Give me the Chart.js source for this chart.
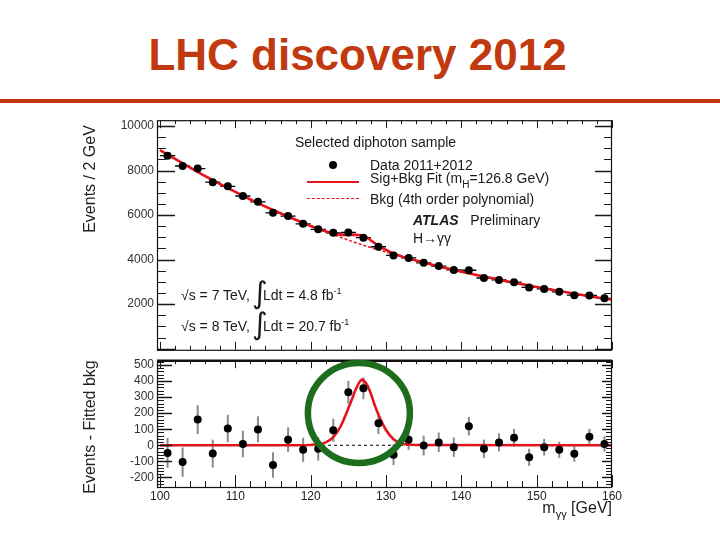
<!DOCTYPE html>
<html>
<head>
<meta charset="utf-8">
<script src="https://cdn.jsdelivr.net/npm/chart.js@4.4.1/dist/chart.umd.min.js"></script>
<style>
  html, body { margin:0; padding:0; background:#fff; }
  body { width:720px; height:540px; position:relative; overflow:hidden; font-family:"Liberation Sans", Arial, sans-serif; }
  #title { position:absolute; left:0; width:715px; top:30px; text-align:center; font-weight:bold; font-size:44px; line-height:50px; color:#C0390F; }
  #rule { position:absolute; left:0; top:99px; width:720px; height:4px; background:#C0390F; }
  canvas { position:absolute; left:0; }
  #cTop { top:110px; }
  #cBot { top:350px; }
  .t { position:absolute; white-space:nowrap; font-size:14px; line-height:14px; color:#1a1a1a; }
  .rot { position:absolute; white-space:nowrap; font-size:16px; line-height:16px; color:#222; transform:translate(-50%,-50%) rotate(-90deg); }
  .sub { font-size:10px; position:relative; top:5px; }
  .sup { font-size:9px; position:relative; top:-6px; }
  .int { position:absolute; font-family:"DejaVu Sans", sans-serif; font-size:30px; line-height:30px; color:#1a1a1a; }
</style>
</head>
<body>
<div id="title">LHC discovery 2012</div>
<div id="rule"></div>
<canvas id="cTop" width="720" height="250"></canvas>
<canvas id="cBot" width="720" height="190"></canvas>

<div class="rot" style="left:90px; top:179px;">Events / 2 GeV</div>
<div class="rot" style="left:90px; top:427px;">Events - Fitted bkg</div>
<div class="t" style="right:108px; top:500px; font-size:16px; line-height:16px;">m<span style="font-size:11px; position:relative; top:5px;">γγ</span> [GeV]</div>

<div class="t" style="left:295px; top:135px;">Selected diphoton sample</div>
<div style="position:absolute; left:329px; top:161px; width:8px; height:8px; border-radius:50%; background:#000;"></div>
<div class="t" style="left:370px; top:158px;">Data 2011+2012</div>
<div style="position:absolute; left:307px; top:181px; width:52px; height:2px; background:#e3141c;"></div>
<div class="t" style="left:370px; top:171px;">Sig+Bkg Fit (m<span class="sub">H</span>=126.8 GeV)</div>
<div style="position:absolute; left:307px; top:198px; width:52px; height:0; border-top:1.5px dashed #e3141c;"></div>
<div class="t" style="left:370px; top:192px;">Bkg (4th order polynomial)</div>
<div class="t" style="left:413px; top:213px;"><b><i>ATLAS</i></b>&nbsp;&nbsp; Preliminary</div>
<div class="t" style="left:413px; top:231px;">H→γγ</div>

<div class="t" style="left:181px; top:288px;">√s = 7 TeV,</div>
<div class="int" style="left:252px; top:278px;">∫</div>
<div class="t" style="left:263px; top:288px;">Ldt = 4.8 fb<span class="sup">-1</span></div>
<div class="t" style="left:181px; top:319px;">√s = 8 TeV,</div>
<div class="int" style="left:252px; top:309px;">∫</div>
<div class="t" style="left:263px; top:319px;">Ldt = 20.7 fb<span class="sup">-1</span></div>

<script>
// ---------------- data ----------------
const massBins = [101,103,105,107,109,111,113,115,117,119,121,123,125,127,129,131,133,135,137,139,141,143,145,147,149,151,153,155,157,159];
const eventsData = [8665,8204,8087,7478,7291,6856,6596,6100,5957,5609,5361,5204,5217,4987,4578,4187,4074,3857,3709,3535,3522,3174,3087,2987,2752,2683,2552,2404,2391,2261];
const statErr = [93,91,90,87,85,83,81,79,77,75,73,72,70,68,67,65,64,62,61,60,58,57,56,55,53,52,51,50,49,47];
const residuals = [-48,-105,160,-52,105,8,99,-123,35,-28,-22,93,331,355,137,-59,35,-2,18,-12,119,-22,18,47,-75,-12,-28,-53,53,8];

const bkgX = [100,102,104,106,108,110,112,114,116,118,120,122,124,126,128,130,132,134,136,138,140,142,144,146,148,150,152,154,156,158,160];
const bkgFit = [8920,8520,8130,7750,7390,7040,6700,6380,6080,5790,5510,5250,5000,4760,4540,4340,4140,3960,3780,3620,3460,3310,3170,3030,2900,2770,2650,2530,2410,2300,2200];

const sbX = [100,102,104,106,108,110,112,114,116,118,120,121,122,123,124,125,126,126.8,127.5,128,129,130,131,132,134,136,138,140,142,144,146,148,150,152,154,156,158,160];
const sbFit = [8920,8520,8130,7750,7390,7040,6700,6380,6080,5790,5512,5386,5268,5170,5120,5110,5110,5090,4985,4860,4630,4435,4278,4152,3962,3780,3620,3460,3310,3170,3030,2900,2770,2650,2530,2410,2300,2200];

const sigX = [100,118,120,121,122,123,124,125,125.5,126,126.5,126.8,127,127.5,128,128.5,129,130,131,132,134,160];
const sigFit = [0,0,2,6,18,50,120,230,290,350,395,410,405,375,320,250,190,95,38,12,2,0];

const zeroX = [100,160];
const zeroY = [0,0];

const topYTicks = [2000,4000,6000,8000,10000];
const botYTicks = [-200,-100,0,100,200,300,400,500];
const xTicks = [100,110,120,130,140,150,160];

// circle around the excess (centre in data units)
const peakMark = { x: 126.4, y: 201 };

// ---------------- helpers ----------------
const pts = (xs, ys) => xs.map((x, i) => ({ x: x, y: ys[i] }));
const RED = '#e3141c';

const errorBars = {
  id: 'errorBars',
  beforeDatasetsDraw(chart) {
    const { ctx } = chart;
    const xs = chart.scales.x, ys = chart.scales.y;
    chart.data.datasets.forEach((ds) => {
      if (!ds.errY) return;
      ctx.save();
      ctx.strokeStyle = ds.errColor || '#000';
      ctx.lineWidth = ds.errWidth || 1;
      ds.data.forEach((p, i) => {
        const px = xs.getPixelForValue(p.x);
        ctx.beginPath();
        ctx.moveTo(px, ys.getPixelForValue(p.y - ds.errY[i]));
        ctx.lineTo(px, ys.getPixelForValue(p.y + ds.errY[i]));
        if (ds.errX) {
          const py = ys.getPixelForValue(p.y);
          ctx.moveTo(xs.getPixelForValue(p.x - ds.errX), py);
          ctx.lineTo(xs.getPixelForValue(p.x + ds.errX), py);
        }
        ctx.stroke();
      });
      ctx.restore();
    });
  }
};

const frameTicks = {
  id: 'frameTicks',
  afterDraw(chart, args, o) {
    const { ctx, chartArea: a } = chart;
    const xs = chart.scales.x, ys = chart.scales.y;
    ctx.save();
    ctx.strokeStyle = '#1a1a1a';
    ctx.lineWidth = 1;
    const nx = Math.round((xs.max - xs.min) / o.xMinor) + 2;
    const x0 = Math.ceil(xs.min / o.xMinor) * o.xMinor;
    for (let k = 0; k < nx; k++) {
      const v = x0 + k * o.xMinor;
      if (v > xs.max + 1e-9) break;
      const r = v / o.xMajor;
      const major = Math.abs(r - Math.round(r)) < 1e-6;
      const px = Math.round(xs.getPixelForValue(v)) + 0.5;
      ctx.beginPath();
      if (o.xTop) { ctx.moveTo(px, a.top); ctx.lineTo(px, a.top + (major ? o.xTop[0] : o.xTop[1])); }
      if (o.xBot) { ctx.moveTo(px, a.bottom); ctx.lineTo(px, a.bottom - (major ? o.xBot[0] : o.xBot[1])); }
      ctx.stroke();
    }
    const ny = Math.round((ys.max - ys.min) / o.yMinor) + 2;
    const y0 = Math.ceil(ys.min / o.yMinor) * o.yMinor;
    for (let k = 0; k < ny; k++) {
      const v = y0 + k * o.yMinor;
      if (v > ys.max + 1e-9) break;
      const r = v / o.yMajor;
      const major = Math.abs(r - Math.round(r)) < 1e-6;
      const py = Math.round(ys.getPixelForValue(v)) + 0.5;
      ctx.beginPath();
      ctx.lineWidth = major ? 1.5 : 1;
      ctx.moveTo(a.left, py); ctx.lineTo(a.left + (major ? o.yLeft[0] : o.yLeft[1]), py);
      ctx.moveTo(a.right, py); ctx.lineTo(a.right - (major ? o.yRight[0] : o.yRight[1]), py);
      ctx.stroke();
    }
    ctx.lineWidth = 1.2;
    ctx.strokeStyle = '#111';
    ctx.strokeRect(a.left + 0.5, a.top + 0.5, a.right - a.left - 1, a.bottom - a.top);
    if (o.thickTop) {
      ctx.lineWidth = 2.5;
      ctx.beginPath(); ctx.moveTo(a.left, a.top + 0.5); ctx.lineTo(a.right, a.top + 0.5); ctx.stroke();
    }
    ctx.restore();
  }
};

const ringMark = {
  id: 'ringMark',
  afterDraw(chart, args, o) {
    if (!o.point) return;
    const { ctx } = chart;
    const cx = chart.scales.x.getPixelForValue(o.point.x);
    const cy = chart.scales.y.getPixelForValue(o.point.y);
    ctx.save();
    ctx.strokeStyle = '#1d6d1d';
    ctx.lineWidth = 6.5;
    ctx.beginPath();
    ctx.ellipse(cx, cy, 51, 50, 0, 0, Math.PI * 2);
    ctx.stroke();
    ctx.restore();
  }
};

Chart.register(errorBars, frameTicks, ringMark);
Chart.defaults.font.family = '"Liberation Sans", Arial, sans-serif';
Chart.defaults.color = '#222';

const plainNum = v => String(v);

const commonX = (showLabels, h) => ({
  type: 'linear', min: 99.6, max: 160,
  grid: { display: false, drawTicks: false },
  border: { display: false },
  ticks: { display: showLabels, font: { size: 12 }, padding: 2, autoSkip: false, maxRotation: 0, callback: plainNum },
  afterBuildTicks: s => { s.ticks = xTicks.map(v => ({ value: v })); },
  afterFit: s => { s.height = h; }
});

// ---------------- top panel ----------------
new Chart(document.getElementById('cTop'), {
  type: 'scatter',
  data: {
    datasets: [
      { label: 'Data 2011+2012', data: pts(massBins, eventsData), errY: statErr, errX: 1, errColor: '#000', errWidth: 1.3,
        pointRadius: 4, pointBackgroundColor: '#000', pointBorderWidth: 0, showLine: false },
      { label: 'Sig+Bkg Fit', type: 'line', data: pts(sbX, sbFit), borderColor: RED, borderWidth: 2.6,
        pointRadius: 0, cubicInterpolationMode: 'monotone', fill: false },
      { label: 'Bkg', type: 'line', data: pts(bkgX, bkgFit), borderColor: RED, borderWidth: 1.5, borderDash: [3, 2],
        pointRadius: 0, cubicInterpolationMode: 'monotone', fill: false }
    ]
  },
  options: {
    responsive: false, animation: false, events: [],
    layout: { padding: { left: 0, top: 10, right: 108, bottom: 4 } },
    scales: {
      x: commonX(false, 0),
      y: {
        type: 'linear', min: -50, max: 10260,
        grid: { display: false, drawTicks: false }, border: { display: false },
        ticks: { font: { size: 12 }, padding: 3, color: '#333', callback: plainNum },
        afterBuildTicks: s => { s.ticks = topYTicks.map(v => ({ value: v })); },
        afterFit: s => { s.width = 157; }
      }
    },
    plugins: {
      legend: { display: false }, tooltip: { enabled: false },
      frameTicks: { xMajor: 10, xMinor: 2, xTop: [8, 4], xBot: [8, 4], yMajor: 2000, yMinor: 500, yLeft: [18, 9], yRight: [17, 8] }
    }
  }
});

// ---------------- bottom panel ----------------
new Chart(document.getElementById('cBot'), {
  type: 'scatter',
  data: {
    datasets: [
      { label: 'Residuals', data: pts(massBins, residuals), errY: statErr, errColor: '#8a8a8a', errWidth: 2,
        pointRadius: 4, pointBackgroundColor: '#000', pointBorderWidth: 0, showLine: false },
      { label: 'Signal', type: 'line', data: pts(sigX, sigFit), borderColor: RED, borderWidth: 2.6,
        pointRadius: 0, cubicInterpolationMode: 'monotone', fill: false },
      { label: 'Zero', type: 'line', data: pts(zeroX, zeroY), borderColor: '#000', borderWidth: 1, borderDash: [3, 3],
        pointRadius: 0, fill: false }
    ]
  },
  options: {
    responsive: false, animation: false, events: [],
    layout: { padding: { left: 0, top: 6, right: 108, bottom: 0 } },
    scales: {
      x: commonX(true, 53),
      y: {
        type: 'linear', min: -260, max: 530,
        grid: { display: false, drawTicks: false }, border: { display: false },
        ticks: { font: { size: 12 }, padding: 3, color: '#333', callback: plainNum },
        afterBuildTicks: s => { s.ticks = botYTicks.map(v => ({ value: v })); },
        afterFit: s => { s.width = 157; }
      }
    },
    plugins: {
      legend: { display: false }, tooltip: { enabled: false },
      frameTicks: { xMajor: 10, xMinor: 2, xTop: [8, 4], xBot: [12, 6], yMajor: 100, yMinor: 20, yLeft: [15, 7], yRight: [10, 6], thickTop: true },
      ringMark: { point: peakMark }
    }
  }
});
</script>
</body>
</html>
